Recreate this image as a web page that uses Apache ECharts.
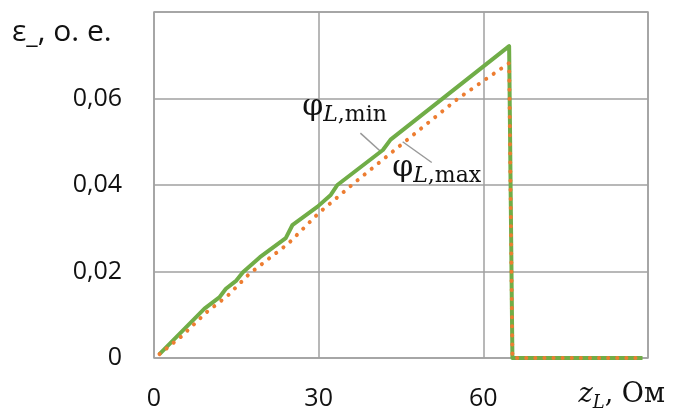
<!DOCTYPE html>
<html>
<head>
<meta charset="utf-8">
<script src="https://cdn.jsdelivr.net/npm/echarts@6/dist/echarts.min.js"></script>
<style>
  html, body { margin: 0; padding: 0; background: #fff; }
  #chart { width: 677px; height: 414px; }
</style>
</head>
<body>
<div id="chart"></div>
<script>
// значения: [z_L, ε_]
const phiMin = [
  [1.0, 0.0009], [9.2, 0.0114], [11.9, 0.0140], [13.1, 0.0160], [15.0, 0.0179],
  [16.2, 0.0198], [19.3, 0.0233], [24.0, 0.0277], [25.2, 0.0307], [29.8, 0.0350],
  [32.2, 0.0377], [33.4, 0.0400], [41.7, 0.0481], [43.1, 0.0505], [64.7, 0.0721],
  [65.3, 0], [89.0, 0]
];
const phiMax = [
  [1.0, 0.0009], [5.0, 0.0050], [9.5, 0.0105], [13.5, 0.0145], [17.4, 0.0195],
  [24.5, 0.0265], [30.0, 0.0335], [34.2, 0.0380], [36.5, 0.0405], [45.4, 0.0497],
  [55.4, 0.0600], [64.7, 0.0682], [65.3, 0], [89.0, 0]
];
const xTicks = [0, 30, 60];          // подписи оси x (90 не подписывается)
const yTicks = [0, 0.02, 0.04, 0.06]; // подписи оси y (0,08 не подписывается)

// подписи кривых и выноски (в координатах данных)
const labelMin = { at: [27.0, 0.0546], line: [[37.6, 0.0520], [41.5, 0.0475]] };
const labelMax = { at: [43.4, 0.0403], line: [[45.3, 0.0500], [50.6, 0.0452]] };

const chart = echarts.init(document.getElementById('chart'));
const gray = '#A0A0A0';
const serif = '"DejaVu Serif", "Liberation Serif", serif';
const sans = '"Open Sans", sans-serif';

const option = {
  animation: false,
  grid: {
    left: 154, right: 29, top: 12, bottom: 56,
    show: true, borderColor: gray, borderWidth: 1.5
  },
  xAxis: {
    type: 'value', min: 0, max: 90, interval: 30,
    axisLine: { show: false },
    axisTick: { show: false },
    splitLine: { lineStyle: { color: gray, width: 1.5 } },
    axisLabel: {
      margin: 28, fontSize: 25, color: '#111', fontFamily: sans,
      formatter: v => xTicks.includes(v) ? String(v) : ''
    }
  },
  yAxis: {
    type: 'value', min: 0, max: 0.08, interval: 0.02,
    axisLine: { show: false },
    axisTick: { show: false },
    splitLine: { lineStyle: { color: gray, width: 1.5 } },
    axisLabel: {
      margin: 32, fontSize: 25, color: '#111', fontFamily: sans,
      formatter: v => {
        const t = yTicks.find(k => Math.abs(k - v) < 1e-9);
        return t === undefined ? '' : String(t).replace('.', ',');
      }
    }
  },
  series: [
    {
      name: 'φL,min', type: 'line', data: phiMin, showSymbol: false, z: 2,
      lineStyle: { color: '#70AD47', width: 4, join: 'round' }
    },
    {
      name: 'φL,max', type: 'line', data: phiMax, showSymbol: false, z: 3,
      lineStyle: { color: '#ED7D31', width: 4, type: [0.1, 9], cap: 'round' }
    }
  ]
};
chart.setOption(option);

function px(p) { return chart.convertToPixel({ gridIndex: 0 }, p); }

function curveLabel(lbl, tail) {
  const a = px(lbl.at);
  const p0 = px(lbl.line[0]);
  const p1 = px(lbl.line[1]);
  return [
    {
      type: 'line', shape: { x1: p0[0], y1: p0[1], x2: p1[0], y2: p1[1] },
      style: { stroke: '#999', lineWidth: 1.5 }
    },
    {
      type: 'text', x: a[0], y: a[1],
      style: {
        text: '{p|φ}{l|L}{s|,' + tail + '}',
        verticalAlign: 'bottom',
        rich: {
          p: { fontFamily: serif, fontSize: 30, fill: '#111', verticalAlign: 'bottom' },
          l: { fontFamily: serif, fontStyle: 'italic', fontSize: 22, fill: '#111', verticalAlign: 'bottom', padding: [0, 0, -4, 0] },
          s: { fontFamily: serif, fontSize: 22, fill: '#111', verticalAlign: 'bottom', padding: [0, 0, -4, 0] }
        }
      }
    }
  ];
}

chart.setOption({
  graphic: [
    ...curveLabel(labelMin, 'min'),
    ...curveLabel(labelMax, 'max'),
    {
      type: 'text', left: 12, top: 17,
      style: {
        text: '{e|ε}{d|_}{e|, о. е.}',
        rich: {
          e: { fontFamily: sans, fontSize: 30, fill: '#111', verticalAlign: 'bottom' },
          d: { fontFamily: sans, fontSize: 26, fill: '#111', verticalAlign: 'bottom', padding: [0, 0, -2, 0] }
        }
      }
    },
    {
      type: 'text', right: 12, top: 381,
      style: {
        text: '{z|z}{l|L}{o|, Ом}',
        rich: {
          z: { fontFamily: serif, fontStyle: 'italic', fontSize: 27, fill: '#111', verticalAlign: 'bottom' },
          l: { fontFamily: serif, fontStyle: 'italic', fontSize: 18, fill: '#111', verticalAlign: 'bottom', padding: [0, 0, -4, 0] },
          o: { fontFamily: serif, fontSize: 27, fill: '#111', verticalAlign: 'bottom' }
        }
      }
    }
  ]
});
</script>
</body>
</html>
